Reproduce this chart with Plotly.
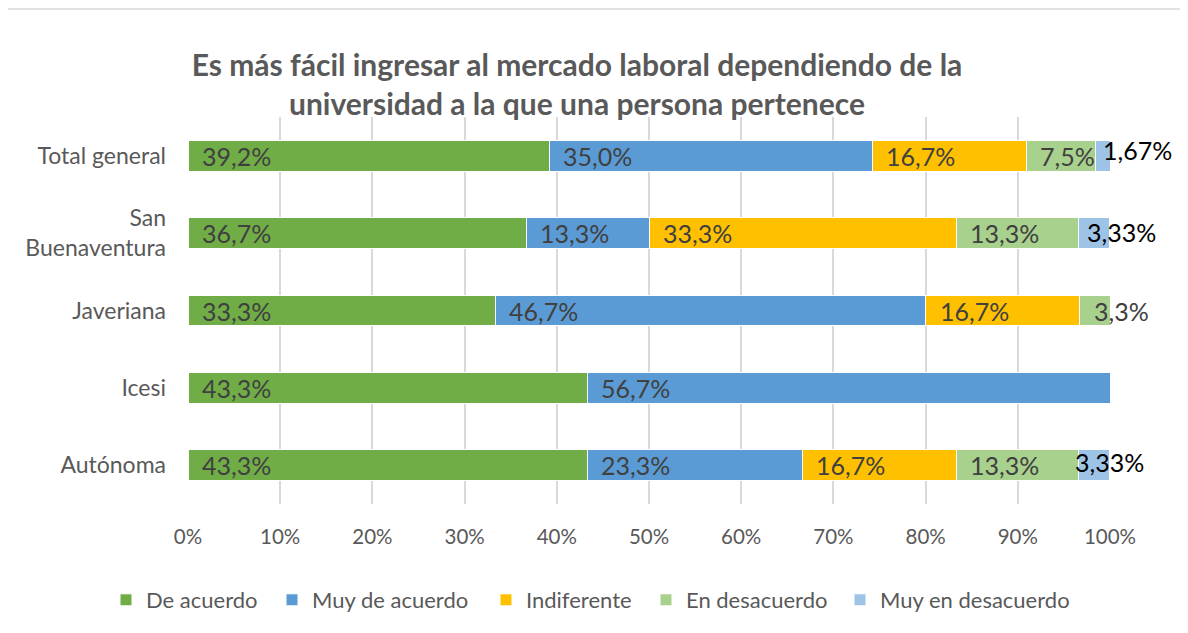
import plotly.graph_objects as go

# ---- data ----
categories = ["Total general", "San<br>Buenaventura", "Javeriana", "Icesi", "Autónoma"]
series_names = ["De acuerdo", "Muy de acuerdo", "Indiferente", "En desacuerdo", "Muy en desacuerdo"]
de_acuerdo = [39.2, 36.7, 33.3, 43.3, 43.3]
muy_de_acuerdo = [35.0, 13.3, 46.7, 56.7, 23.3]
indiferente = [16.7, 33.3, 16.7, 0, 16.7]
en_desacuerdo = [7.5, 13.3, 3.3, 0, 13.3]
muy_en_desacuerdo = [1.67, 3.33, 0, 0, 3.33]
x_ticks = [0, 10, 20, 30, 40, 50, 60, 70, 80, 90, 100]

series_values = [de_acuerdo, muy_de_acuerdo, indiferente, en_desacuerdo, muy_en_desacuerdo]

# ---- styles ----
colors = ["#70AD47", "#5B9BD5", "#FFC000", "#A9D18E", "#9DC3E6"]
FONT = "Lato"
label_color = "#404040"
# label offsets (xshift, yshift, color) for the small overflowing labels
special = {
    (4, 0): (6, 6, "black"),
    (4, 1): (6, 1, "black"),
    (4, 4): (-6, 3, "black"),
}
# page x of each legend entry's text start
legend_text_x = [147, 313, 527, 687, 881]

W, H = 1188, 633
OFF = 8  # page body margin
PL, PR, PT, PB = 188, 1110, 117, 504
L = PL - OFF
T = PT - OFF
R = W - (PR - OFF)
B = H - (PB - OFF)
PW, PH = PR - PL, PB - PT


def fmt(v):
    s = f"{v:.2f}" if round(v, 1) != v else f"{v:.1f}"
    return s.replace(".", ",") + "%"


fig = go.Figure()
legend_layouts = {}
for i, (name, vals, col) in enumerate(zip(series_names, series_values, colors)):
    lname = "legend" if i == 0 else f"legend{i + 1}"
    fig.add_trace(go.Bar(
        name=name, y=categories, x=vals, orientation="h",
        marker=dict(color=col, line=dict(color="white", width=1)),
        width=0.4, hoverinfo="skip", legend=lname, showlegend=True,
    ))
    legend_layouts[lname] = dict(
        orientation="h", xref="container", yref="container",
        x=(legend_text_x[i] - 41 - OFF) / W, xanchor="left",
        y=1 - (600 - OFF) / H, yanchor="middle",
        font=dict(family=FONT, size=22, color="#595959"),
        bgcolor="rgba(0,0,0,0)", visible=True,
    )

annotations = []
for ci, cat in enumerate(categories):
    start = 0.0
    for si, vals in enumerate(series_values):
        v = vals[ci]
        if v > 0:
            xs, ys, c = special.get((si, ci), (12, 0, label_color))
            annotations.append(dict(
                x=start, y=cat, xref="x", yref="y", text=fmt(v),
                showarrow=False, xanchor="left", yanchor="middle",
                xshift=xs, yshift=ys,
                font=dict(family=FONT, size=25, color=c),
            ))
        start += v

fig.update_layout(
    barmode="stack",
    showlegend=True,
    width=W, height=H,
    margin=dict(l=L, r=R, t=T, b=B),
    paper_bgcolor="white", plot_bgcolor="white",
    font=dict(family=FONT, color="#595959"),
    title=dict(
        text="Es más fácil ingresar al mercado laboral dependiendo de la<br>universidad a la que una persona pertenece",
        x=(577 - OFF) / W, xanchor="center", xref="container",
        y=1 - (76 - OFF) / H, yanchor="top", yref="container",
        font=dict(family=FONT, size=30, color="#595959", weight="bold"),
    ),
    xaxis=dict(
        range=[0, 100], tickvals=x_ticks, ticktext=[f"{t}%" for t in x_ticks],
        showgrid=True, gridcolor="#d9d9d9", gridwidth=1.5,
        zeroline=False, showline=False, ticks="",
        tickfont=dict(family=FONT, size=20.5, color="#595959"),
        ticklabelstandoff=18,
        fixedrange=True,
    ),
    yaxis=dict(
        autorange="reversed", showgrid=False, ticks="",
        tickfont=dict(family=FONT, size=23, color="#595959"),
        ticklabelstandoff=21,
        fixedrange=True,
    ),
    annotations=annotations,
    shapes=[dict(
        type="rect", xref="paper", yref="paper",
        x0=(7 - PL) / PW, x1=(1210 - PL) / PW,
        y0=(PB - 660) / PH, y1=(PB - 9) / PH,
        line=dict(color="#d9d9d9", width=1.5), fillcolor="rgba(0,0,0,0)",
        layer="below",
    )],
    **legend_layouts,
)

fig.write_html("out.html")
